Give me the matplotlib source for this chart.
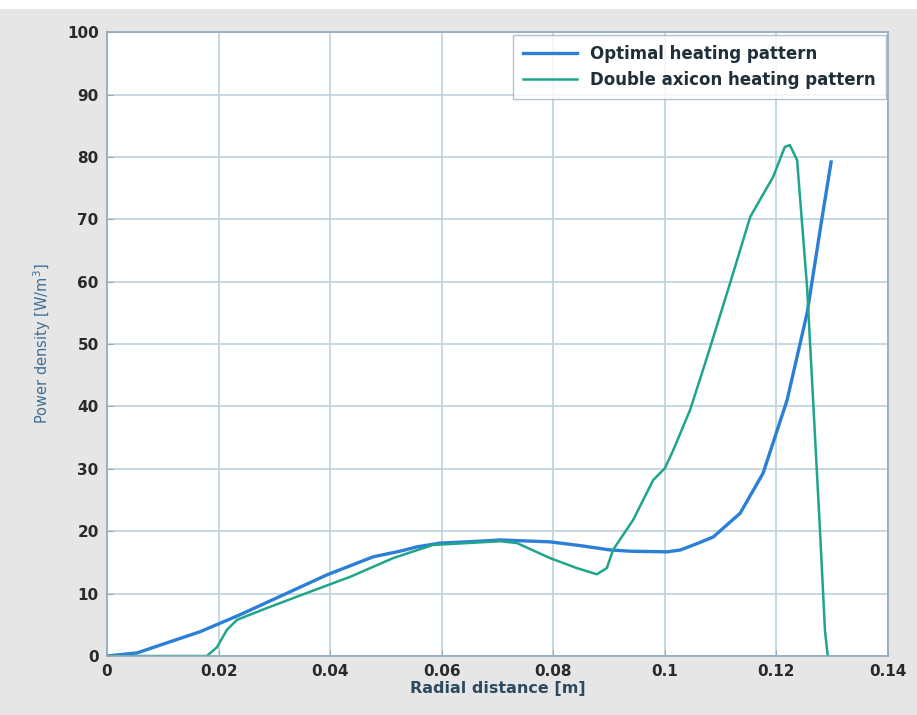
import matplotlib.pyplot as plt
from matplotlib.patches import Rectangle
import numpy as np

# values
x_opt = [0.0, 0.0054, 0.0107, 0.0167, 0.0238, 0.0316, 0.0394, 0.0477, 0.0525,
         0.0556, 0.0597, 0.0645, 0.0705, 0.0794, 0.0848, 0.0902, 0.0938, 0.1004,
         0.1028, 0.106, 0.1087, 0.1135, 0.1176, 0.1219, 0.1255, 0.1282, 0.1298]
y_opt = [0.0, 0.5, 2.1, 3.9, 6.6, 9.8, 13.0, 15.9, 16.8,
         17.5, 18.1, 18.3, 18.6, 18.3, 17.7, 17.0, 16.8, 16.7,
         17.0, 18.1, 19.1, 22.9, 29.3, 41.0, 55.0, 70.4, 79.2]

x_axi = [0.0, 0.0179, 0.0197, 0.0215, 0.0233, 0.0287, 0.0358, 0.0436, 0.0513,
         0.0584, 0.0705, 0.0735, 0.0794, 0.0842, 0.0878, 0.0896, 0.0907, 0.0943,
         0.0979, 0.1, 0.1015, 0.1045, 0.1076, 0.1117, 0.1153, 0.1194, 0.1215,
         0.1224, 0.1237, 0.1255, 0.1266, 0.1278, 0.1287, 0.1292]
y_axi = [0.0, 0.0, 1.4, 4.2, 5.8, 7.7, 10.1, 12.7, 15.7,
         17.8, 18.4, 18.1, 15.7, 14.1, 13.1, 14.1, 17.0, 21.8,
         28.2, 30.1, 33.0, 39.4, 48.0, 59.8, 70.4, 76.8, 81.6,
         81.9, 79.5, 59.0, 40.5, 20.2, 4.0, 0.0]

fig = plt.figure(figsize=(9.17, 7.15), dpi=100, facecolor='#e6e6e6')
# white strip along the top edge of the scan
fig.patches.append(Rectangle((0, 0.988), 1, 0.012, transform=fig.transFigure,
                             facecolor='white', edgecolor='none', zorder=-1))

ax = fig.add_axes([0.1167, 0.0825, 0.8517, 0.8725])
ax.set_facecolor('white')

ax.plot(x_opt, y_opt, color='#2b7fd6', lw=2.4, label='Optimal heating pattern')
ax.plot(x_axi, y_axi, color='#1fa58a', lw=1.8, label='Double axicon heating pattern')

ax.set_xlim(0, 0.14)
ax.set_ylim(0, 100)
ax.set_xticks(np.arange(0, 0.141, 0.02))
ax.set_xticklabels(['0', '0.02', '0.04', '0.06', '0.08', '0.1', '0.12', '0.14'])
ax.set_yticks(np.arange(0, 101, 10))
ax.grid(True, color='#c3d4df', lw=1.3)
ax.set_axisbelow(True)

for s in ax.spines.values():
    s.set_color('#8fa9bb')
    s.set_linewidth(1.2)
ax.tick_params(colors='#8fa9bb', labelcolor='#2a2a2a', labelsize=11,
               direction='in', length=4, pad=6)
for lab in ax.get_xticklabels() + ax.get_yticklabels():
    lab.set_fontweight('bold')

ax.set_xlabel('Radial distance [m]', fontsize=11.5, fontweight='bold',
              color='#2e4a5e', labelpad=1)
ax.set_ylabel('Power density [W/m$^3$]', fontsize=10.5, color='#3c6f96', labelpad=10)

leg = ax.legend(loc='upper right', fontsize=12, frameon=True, fancybox=False,
                borderaxespad=0.15, handlelength=3.2, borderpad=0.6,
                labelspacing=0.5)
leg.get_frame().set_edgecolor('#9fb3c2')
leg.get_frame().set_linewidth(1.0)
for t in leg.get_texts():
    t.set_fontweight('bold')
    t.set_color('#1e2f3a')

fig.savefig('out.png', dpi=100, facecolor=fig.get_facecolor())
